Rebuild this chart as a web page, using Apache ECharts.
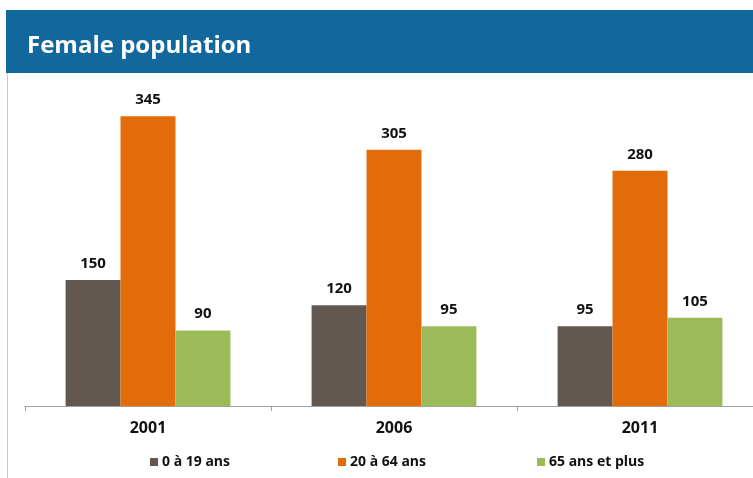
<!DOCTYPE html>
<html>
<head>
<meta charset="utf-8">
<script src="https://cdn.jsdelivr.net/npm/echarts@6/dist/echarts.min.js"></script>
<style>
  html, body { margin: 0; padding: 0; background: #fff; overflow: hidden; }
  /* the plot runs a little past the right edge of the window */
  #chart { width: 763px; height: 478px; }
</style>
</head>
<body>
<div id="chart"></div>
<script>
// Census years on the category axis
const years = ['2001', '2006', '2011'];

// Female population by age group
const age0to19 = [150, 120, 95];
const age20to64 = [345, 305, 280];
const age65plus = [90, 95, 105];

const seriesNames = ['0 à 19 ans', '20 à 64 ans', '65 ans et plus'];
const seriesColors = ['#625850', '#E36C0A', '#9BBB59'];
const legendLefts = [150, 338, 537];

const font = '"Open Sans", "Noto Sans", sans-serif';

const chart = echarts.init(document.getElementById('chart'));

function barSeries(name, data, color) {
  return {
    name: name,
    type: 'bar',
    data: data,
    barGap: '0%',
    barCategoryGap: '33%',
    itemStyle: { color: color },
    label: {
      show: true,
      position: 'top',
      distance: 9,
      color: '#111',
      fontFamily: font,
      fontWeight: 'bold',
      fontSize: 15
    }
  };
}

// one legend block per series so each entry sits at its own spot
const legends = seriesNames.map((name, i) => ({
  data: [name],
  left: legendLefts[i],
  top: 455,
  padding: 0,
  itemWidth: 8,
  itemHeight: 8,
  itemGap: 0,
  icon: 'rect',
  textStyle: {
    color: '#111',
    fontFamily: font,
    fontWeight: 'bold',
    fontSize: 14,
    padding: [0, 0, 0, -1]
  }
}));

chart.setOption({
  animation: false,
  backgroundColor: '#ffffff',
  graphic: [
    {
      type: 'rect',
      left: 6, top: 10,
      shape: { width: 757, height: 63 },
      style: { fill: '#12689C' },
      z: 0
    },
    {
      type: 'text',
      left: 27, top: 34,
      style: {
        text: 'Female population',
        fill: '#ffffff',
        font: 'bold 24px "Open Sans", "Noto Sans", sans-serif'
      },
      z: 1
    },
    {
      type: 'line',
      shape: { x1: 7.5, y1: 73, x2: 7.5, y2: 478 },
      style: { stroke: '#c8c8c8', lineWidth: 1 },
      z: 1
    }
  ],
  grid: { left: 25, right: 0, top: 70, height: 336, containLabel: false },
  xAxis: {
    type: 'category',
    data: years,
    axisLine: { show: true, lineStyle: { color: '#a0a0a0', width: 1 } },
    axisTick: { show: true, length: 5, lineStyle: { color: '#a0a0a0' } },
    axisLabel: {
      color: '#111',
      fontFamily: font,
      fontWeight: 'bold',
      fontSize: 16,
      margin: 14
    }
  },
  yAxis: {
    type: 'value',
    min: 0,
    max: 400,
    show: false,
    splitLine: { show: false }
  },
  legend: legends,
  series: [
    barSeries(seriesNames[0], age0to19, seriesColors[0]),
    barSeries(seriesNames[1], age20to64, seriesColors[1]),
    barSeries(seriesNames[2], age65plus, seriesColors[2])
  ]
});
</script>
</body>
</html>
